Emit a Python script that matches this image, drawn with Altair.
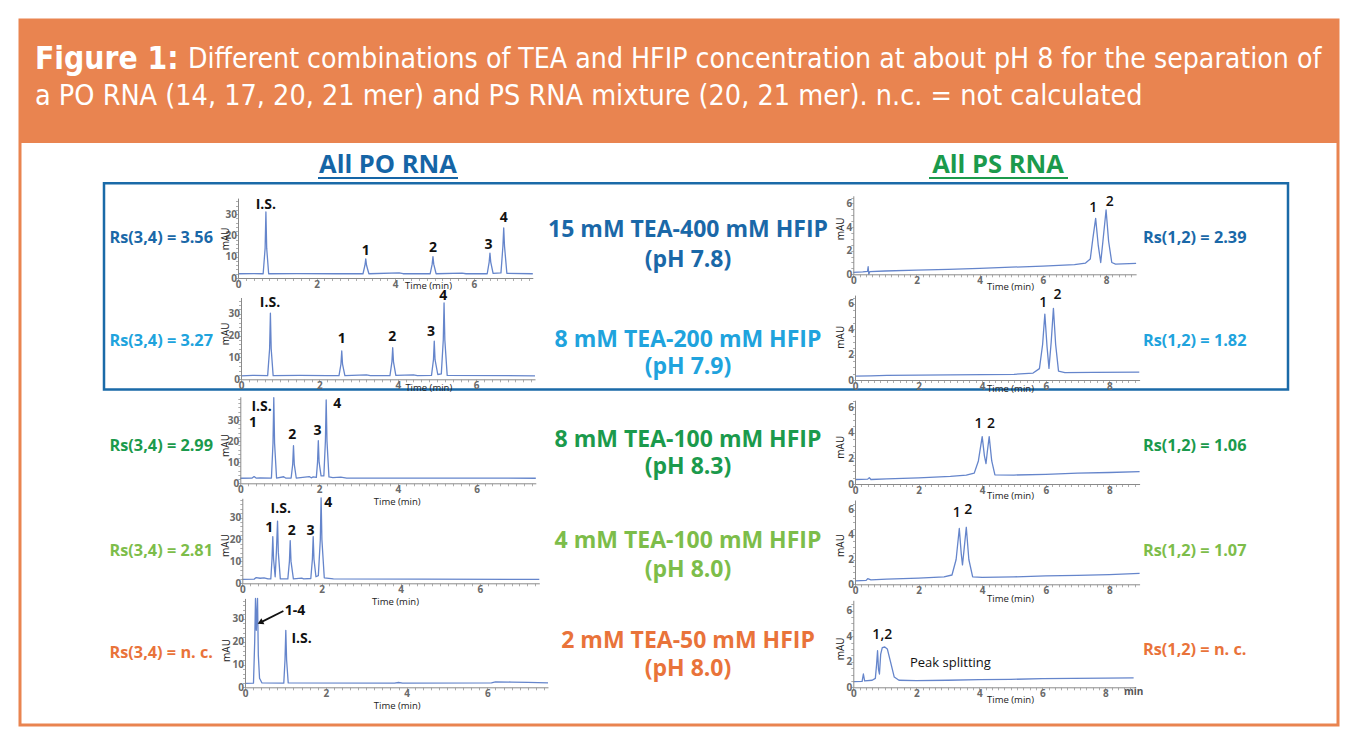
import altair as alt
import pandas as pd

# ------------------------------------------------------------------ data
TITLE_BOLD = "Figure 1:"
TITLE_L1 = "Different combinations of TEA and HFIP concentration at about pH 8 for the separation of"
TITLE_L2 = "a PO RNA (14, 17, 20, 21 mer) and PS RNA mixture (20, 21 mer). n.c. = not calculated"
HEAD_PO = "All PO RNA"
HEAD_PS = "All PS RNA"
conditions = ["15 mM TEA-400 mM HFIP", "8 mM TEA-200 mM HFIP", "8 mM TEA-100 mM HFIP",
              "4 mM TEA-100 mM HFIP", "2 mM TEA-50 mM HFIP"]
ph_values = ["(pH 7.8)", "(pH 7.9)", "(pH 8.3)", "(pH 8.0)", "(pH 8.0)"]
rs_po = ["Rs(3,4) = 3.56", "Rs(3,4) = 3.27", "Rs(3,4) = 2.99", "Rs(3,4) = 2.81", "Rs(3,4) = n. c."]
rs_ps = ["Rs(1,2) = 2.39", "Rs(1,2) = 1.82", "Rs(1,2) = 1.06", "Rs(1,2) = 1.07", "Rs(1,2) = n. c."]

# PO RNA chromatograms (time in min, absorbance in mAU)
po1_t = [0, 0.4, 0.64, 0.69, 0.71, 0.73, 0.78, 1.5, 2.5, 3.18, 3.23, 3.25, 3.27, 3.33, 4.1, 4.2, 4.89, 4.94, 4.96,
         4.98, 5.04, 5.7, 5.8, 6.34, 6.39, 6.41, 6.43, 6.49, 6.69, 6.74, 6.76, 6.78, 6.84, 7.5]
po1_v = [2, 2.1, 2, 14, 31, 14, 2, 2.1, 2, 2, 6, 9, 6, 2, 2.4, 2, 2, 6.5, 10,
         6.5, 2, 2.3, 2, 2, 7.5, 11.7, 7.5, 2.2, 2.4, 15, 23.5, 15, 2.2, 2]
po1_lab = ["I.S.", "1", "2", "3", "4"]
po1_lab_t = [0.71, 3.25, 4.96, 6.37, 6.76]
po1_lab_v = [34.3, 12.8, 13.9, 15.5, 28]

po2_t = [0, 0.3, 0.68, 0.73, 0.75, 0.77, 0.82, 1.5, 2.2, 2.5, 2.55, 2.57, 2.59, 2.65, 3.2, 3.3, 3.8, 3.85, 3.87,
         3.89, 3.95, 4.4, 4.5, 4.86, 4.91, 4.93, 4.95, 5.02, 5.11, 5.16, 5.18, 5.2, 5.26, 7.5]
po2_v = [1.6, 1.8, 1.7, 14, 30.3, 14, 1.7, 1.8, 1.7, 1.7, 7, 13, 7, 1.7, 2, 1.7, 1.7, 8, 14.5,
         8, 1.8, 2, 1.7, 1.8, 9, 17.5, 9, 2.2, 2.5, 18, 35, 18, 1.8, 1.6]
po2_lab = ["I.S.", "1", "2", "3", "4"]
po2_lab_t = [0.74, 2.57, 3.86, 4.85, 5.16]
po2_lab_v = [34.9, 18.3, 19.3, 21.6, 38.2]

po3_t = [0, 0.3, 0.35, 0.4, 0.5, 0.79, 0.83, 0.85, 0.87, 0.92, 1.1, 1.15, 1.29, 1.33, 1.35, 1.37, 1.42, 1.75,
         1.8, 1.85, 1.93, 1.96, 1.98, 2.0, 2.05, 2.12, 2.16, 2.18, 2.2, 2.25, 2.35, 2.55, 2.7, 7.5]
po3_v = [2.4, 2.5, 3.2, 2.5, 2.6, 2.5, 19, 40.6, 19, 2.5, 3.1, 2.5, 2.5, 9, 17.8, 9, 2.5, 3.2,
         2.6, 3.0, 2.8, 10, 20.2, 10, 3.5, 3.5, 20, 39.5, 20, 3, 2.7, 2.9, 2.5, 2.4]
po3_lab = ["I.S.", "1", "2", "3", "4"]
po3_lab_t = [0.54, 0.32, 1.32, 1.96, 2.46]
po3_lab_v = [36.3, 28.6, 22.9, 24.8, 37.6]

po4_t = [0, 0.3, 0.35, 0.45, 0.55, 0.65, 0.72, 0.75, 0.77, 0.79, 0.83, 0.86, 0.89, 0.91, 0.96, 1.15, 1.19, 1.21,
         1.23, 1.29, 1.5, 1.55, 1.73, 1.77, 1.79, 1.81, 1.86, 1.92, 1.97, 1.99, 2.01, 2.07, 2.3, 7.5]
po4_v = [1.8, 1.9, 2.6, 2.3, 2.5, 2, 2, 11, 21.3, 11, 3, 14, 28.4, 14, 2, 2, 10, 19.5,
         10, 2, 2.4, 2, 2.2, 11, 21.3, 11, 3, 3.5, 20, 39, 20, 2.5, 2, 1.8]
po4_lab = ["1", "I.S.", "2", "3", "4"]
po4_lab_t = [0.68, 0.97, 1.25, 1.72, 2.17]
po4_lab_v = [25.1, 33.9, 24, 24, 36.5]

po5_t = [0, 0.21, 0.24, 0.26, 0.28, 0.31, 0.33, 0.36, 0.42, 0.96, 0.99, 1.01, 1.03, 1.07, 3.7, 3.8, 3.9,
         6.1, 6.2, 6.6, 7.0, 7.5]
po5_v = [1.75, 1.8, 20, 39, 25, 39, 14, 4, 1.9, 1.8, 12, 25, 12, 1.9, 1.8, 2.1, 1.8,
         1.9, 2.4, 2.3, 2.2, 1.9]
po5_lab = ["1-4", "I.S."]
po5_lab_t = [1.24, 1.4]
po5_lab_v = [33.5, 21]
po5_arrow = {"t1": 0.95, "v1": 33.5, "t2": 0.40, "v2": 28.6}

# PS RNA chromatograms
ps1_t = [0, 0.3, 0.45, 0.47, 0.49, 0.52, 1, 2, 3, 4, 5, 6, 7, 7.35, 7.5, 7.58, 7.67, 7.75, 7.83, 7.9, 8.0,
         8.08, 8.18, 8.3, 8.95]
ps1_v = [0.17, 0.2, 0.25, 0.64, 0.0, 0.22, 0.28, 0.35, 0.42, 0.5, 0.6, 0.7, 0.82, 0.95, 1.3, 3, 4.74, 2.5,
         1.0, 2.8, 5.45, 2.8, 1.0, 0.87, 0.93]
ps1_lab = ["1", "2"]
ps1_lab_t = [7.59, 8.12]
ps1_lab_v = [5.6, 6.15]

ps2_t = [0, 0.5, 1, 2, 3, 4, 5, 5.6, 5.8, 5.9, 5.97, 6.04, 6.1, 6.17, 6.24, 6.31, 6.4, 6.6, 7.5, 8.94]
ps2_v = [0.3, 0.33, 0.36, 0.38, 0.4, 0.42, 0.45, 0.55, 0.9, 2.8, 5.2, 2.6, 0.92, 3, 5.66, 2.8, 0.7, 0.58,
         0.6, 0.62]
ps2_lab = ["1", "2"]
ps2_lab_t = [5.92, 6.37]
ps2_lab_v = [6.05, 6.7]

ps3_t = [0, 0.4, 0.45, 0.5, 1, 2, 3, 3.5, 3.75, 3.88, 4.0, 4.07, 4.12, 4.16, 4.22, 4.3, 4.4, 5, 6, 7, 8, 8.95]
ps3_v = [0.35, 0.38, 0.5, 0.35, 0.4, 0.48, 0.6, 0.7, 0.85, 1.8, 3.7, 2.2, 1.6, 2.5, 3.7, 1.8, 0.72, 0.7,
         0.75, 0.85, 0.9, 0.96]
ps3_lab = ["1", "2"]
ps3_lab_t = [3.88, 4.28]
ps3_lab_v = [4.66, 4.66]

ps4_t = [0, 0.35, 0.4, 0.5, 1, 2, 2.8, 3.05, 3.18, 3.28, 3.34, 3.38, 3.43, 3.5, 3.58, 3.7, 4, 5, 6, 7, 8, 8.95]
ps4_v = [0.27, 0.32, 0.45, 0.35, 0.42, 0.5, 0.6, 0.75, 2, 4.5, 2.5, 1.56, 2.8, 4.6, 2, 0.6, 0.56, 0.6,
         0.68, 0.72, 0.78, 0.88]
ps4_lab = ["1", "2"]
ps4_lab_t = [3.2, 3.56]
ps4_lab_v = [5.73, 6.0]

ps5_t = [0, 0.28, 0.32, 0.36, 0.6, 0.7, 0.74, 0.77, 0.8, 0.83, 0.87, 0.92, 1.0, 1.08, 1.18, 1.3, 1.45, 2, 3,
         4, 5, 6, 7, 8, 8.9]
ps5_v = [0.44, 0.46, 1.04, 0.5, 0.55, 0.7, 1.8, 2.86, 1.4, 1.04, 2.6, 3.1, 3.15, 3.0, 2.0, 0.8, 0.55, 0.52,
         0.55, 0.6, 0.62, 0.68, 0.7, 0.72, 0.73]
ps5_lab = ["1,2"]
ps5_lab_t = [0.92]
ps5_lab_v = [4.1]
ps5_note = "Peak splitting"
ps5_note_t = 1.8
ps5_note_v = 1.9

# ------------------------------------------------------------------ style / layout
W, H = 1343, 731
BODY = "Open Sans"
TITLE_FONT = "Liberation Sans Narrow, DejaVu Sans Condensed, sans-serif"
LINE = "#6585cb"
ORANGE = "#e98450"
ROW_COLORS = ["#1a68a8", "#20a3dd", "#1b9a4c", "#7dbd4a", "#e9733a"]
PO_HEAD_COLOR = "#1565a6"
PS_HEAD_COLOR = "#1b9a4c"
BOX_BLUE = "#1a6aa8"

dummy = pd.DataFrame({"d": [0]})


def rect(x1, x2, y1, y2, **kw):
    return alt.Chart(dummy).mark_rect(**kw).encode(
        x=alt.value(x1), x2=alt.value(x2), y=alt.value(y1), y2=alt.value(y2))


def label(s, x, y, **kw):
    return alt.Chart(dummy).mark_text(text=s, baseline="middle", **kw).encode(
        x=alt.value(x), y=alt.value(y))


def hrule(x1, x2, y, color, w):
    return alt.Chart(dummy).mark_rule(color=color, strokeWidth=w).encode(
        x=alt.value(x1), x2=alt.value(x2), y=alt.value(y))


def ticks(vmax, step):
    n = int(round(vmax / step + 1e-9))
    return [round(i * step, 3) for i in range(n + 1) if i * step <= vmax + 1e-9]


AX_COMMON = dict(tickSize=2.5, tickColor="#999", tickWidth=0.8, domainColor="#8a8a8a", domainWidth=1,
                 labelFont=BODY, labelFontSize=10, labelFontWeight="bold", labelColor="#6a6a6a",
                 labelOverlap=False, labelFlush=False, grid=False, zindex=2,
                 titleFont=BODY, titleFontWeight="normal", titleColor="#222",
                 titleBaseline="middle", titleAlign="center")


def panel(t, v, lab, lab_t, lab_v, geom, xmax, ymax, ystep, ylab, ylabmax, xtitle, ytitle, lab_size,
          lab_weight, extra=None):
    x0, x1, y0, y1 = geom
    xs = alt.Scale(domain=[0, xmax], range=[x0, x1], nice=False, zero=False)
    ys = alt.Scale(domain=[0, ymax], range=[y0, y1], nice=False, zero=False)
    xaxis = alt.Axis(orient="bottom", offset=y0 - H, values=ticks(xmax, 0.2),
                     labelExpr="abs(datum.value % 2) < 0.01 ? format(datum.value, 'd') : ''",
                     labelPadding=-1, title="Time (min)", titleFontSize=9.5,
                     titleX=xtitle[0], titleY=xtitle[1], **AX_COMMON)
    yaxis = alt.Axis(orient="left", offset=-x0, values=ticks(ymax, ystep),
                     labelExpr=(f"abs(datum.value % {ylab}) < 0.01 && datum.value < {ylabmax} "
                                f"? format(datum.value, 'd') : ''"),
                     labelPadding=-1, labelBaseline="middle", title="mAU", titleAngle=-90, titleFontSize=10,
                     titleX=ytitle[0], titleY=ytitle[1], **AX_COMMON)

    def X(f):
        return alt.X(f, type="quantitative", scale=xs, axis=xaxis)

    def Y(f):
        return alt.Y(f, type="quantitative", scale=ys, axis=yaxis)

    line = alt.Chart(pd.DataFrame({"t": t, "v": v})).mark_line(
        color=LINE, strokeWidth=1.3, strokeJoin="round").encode(x=X("t"), y=Y("v"))
    txt = alt.Chart(pd.DataFrame({"t": lab_t, "v": lab_v, "s": lab})).mark_text(
        font=BODY, fontSize=lab_size, fontWeight=lab_weight, color="#111", baseline="middle").encode(
        x=X("t"), y=Y("v"), text="s:N")
    layers = [line, txt]
    if extra:
        layers += extra(X, Y)
    return alt.layer(*layers)


def po5_extra(X, Y):
    a = pd.DataFrame([po5_arrow])
    shaft = alt.Chart(a).mark_rule(color="#111", strokeWidth=1.8).encode(
        x=X("t1"), y=Y("v1"), x2="t2:Q", y2="v2:Q")
    head = alt.Chart(a).mark_point(shape="triangle", filled=True, color="#111", opacity=1, size=45,
                                   angle=243).encode(x=X("t2"), y=Y("v2"))
    return [shaft, head]


def ps5_extra(X, Y):
    note = alt.Chart(pd.DataFrame({"t": [ps5_note_t], "v": [ps5_note_v], "s": [ps5_note]})).mark_text(
        font=BODY, fontSize=13, color="#111", align="left", baseline="middle").encode(
        x=X("t"), y=Y("v"), text="s:N")
    unit = alt.Chart(pd.DataFrame({"t": [8.9], "s": ["min"]})).mark_text(
        font=BODY, fontSize=10, fontWeight="bold", color="#555", baseline="middle").encode(
        x=X("t"), y=alt.value(684), text="s:N")
    return [note, unit]


po_geom = [(230, 524.8, 270, 190.1), (233, 527, 371.3, 289.5), (232.3, 527.8, 475.3, 388.8),
           (234.3, 531.3, 575.3, 490.3), (237, 540, 679.3, 590.4)]
po_ymax = [37.5, 37.5, 41, 38.8, 39]
po_xt = [(420, 7), (420.3, 8.4), (388.7, 18), (387, 18.5), (388.7, 18.5)]
po_yt = [(-13, 230.3), (-16, 325.3), (-15.3, 437), (-17.3, 537), (-19, 642)]

ps_geom = [(845.3, 1128.1, 266.3, 187.8), (847, 1131.6, 372, 287.1), (847, 1131.6, 476, 392.2),
           (847, 1131.6, 576.3, 492), (845.3, 1127.2, 679.3, 592.3)]
ps_ymax = [6.65, 6.7, 6.55, 6.8, 6.8]
ps_xt = [(1002, 12), (1002, 8.3), (1002, 11), (1002, 14), (1002, 12)]
ps_yt = [(-13.3, 220.3), (-15, 328.7), (-15, 438.7), (-15, 537), (-13.3, 640.3)]

po_data = [(po1_t, po1_v, po1_lab, po1_lab_t, po1_lab_v), (po2_t, po2_v, po2_lab, po2_lab_t, po2_lab_v),
           (po3_t, po3_v, po3_lab, po3_lab_t, po3_lab_v), (po4_t, po4_v, po4_lab, po4_lab_t, po4_lab_v),
           (po5_t, po5_v, po5_lab, po5_lab_t, po5_lab_v)]
ps_data = [(ps1_t, ps1_v, ps1_lab, ps1_lab_t, ps1_lab_v), (ps2_t, ps2_v, ps2_lab, ps2_lab_t, ps2_lab_v),
           (ps3_t, ps3_v, ps3_lab, ps3_lab_t, ps3_lab_v), (ps4_t, ps4_v, ps4_lab, ps4_lab_t, ps4_lab_v),
           (ps5_t, ps5_v, ps5_lab, ps5_lab_t, ps5_lab_v)]

layers = []
# frame and header
layers.append(rect(12, 1330, 12, 717, fill="white", stroke=ORANGE, strokeWidth=3))
layers.append(rect(12, 1330, 12, 135, fill=ORANGE))
layers.append(label(TITLE_BOLD, 27, 52, font=TITLE_FONT, fontSize=31.5, fontWeight="bold", color="white",
                    align="left"))
layers.append(label(TITLE_L1, 180, 52, font=TITLE_FONT, fontSize=28.2, color="white", align="left"))
layers.append(label(TITLE_L2, 27, 88, font=TITLE_FONT, fontSize=28.5, color="white", align="left"))
# column heads
layers.append(label(HEAD_PO, 380, 157, font=BODY, fontSize=25.5, fontWeight="bold", color=PO_HEAD_COLOR))
layers.append(hrule(310, 450, 170, PO_HEAD_COLOR, 2))
layers.append(label(HEAD_PS, 990, 157, font=BODY, fontSize=25.5, fontWeight="bold", color=PS_HEAD_COLOR))
layers.append(hrule(921, 1060, 170, PS_HEAD_COLOR, 2))
# blue box
layers.append(rect(96, 1280, 175.3, 381.5, fill="transparent", stroke=BOX_BLUE, strokeWidth=2.5))

row_y_left = [230, 333, 438, 543, 645]
row_y_right = [230, 333, 438, 543, 642]
cond_y = [222, 332, 432, 533, 633]
ph_y = [252, 359, 459, 562, 661]
for i in range(5):
    c = ROW_COLORS[i]
    layers.append(label(rs_po[i], 205, row_y_left[i], font=BODY, fontSize=16.3, fontWeight="bold", color=c,
                        align="right"))
    layers.append(label(rs_ps[i], 1135, row_y_right[i], font=BODY, fontSize=16.3, fontWeight="bold", color=c,
                        align="left"))
    layers.append(label(conditions[i], 680, cond_y[i], font=BODY, fontSize=23, fontWeight="bold", color=c))
    layers.append(label(ph_values[i], 680, ph_y[i], font=BODY, fontSize=23, fontWeight="bold", color=c))

for i in range(5):
    t, v, lab, lt, lv = po_data[i]
    layers.append(panel(t, v, lab, lt, lv, po_geom[i], 7.5, po_ymax[i], 2, 10, 35, po_xt[i], po_yt[i],
                        14, "bold", po5_extra if i == 4 else None))
for i in range(5):
    t, v, lab, lt, lv = ps_data[i]
    layers.append(panel(t, v, lab, lt, lv, ps_geom[i], 8.95, ps_ymax[i], 0.5, 2, 7, ps_xt[i], ps_yt[i],
                        14, 600, ps5_extra if i == 4 else None))

chart = alt.layer(*layers).resolve_scale(x="independent", y="independent").properties(
    width=W, height=H, autosize=alt.AutoSizeParams(type="none"), padding=0,
    background="white").configure_view(stroke=None)

chart.save("out.html", embed_options={"renderer": "svg", "actions": False})
